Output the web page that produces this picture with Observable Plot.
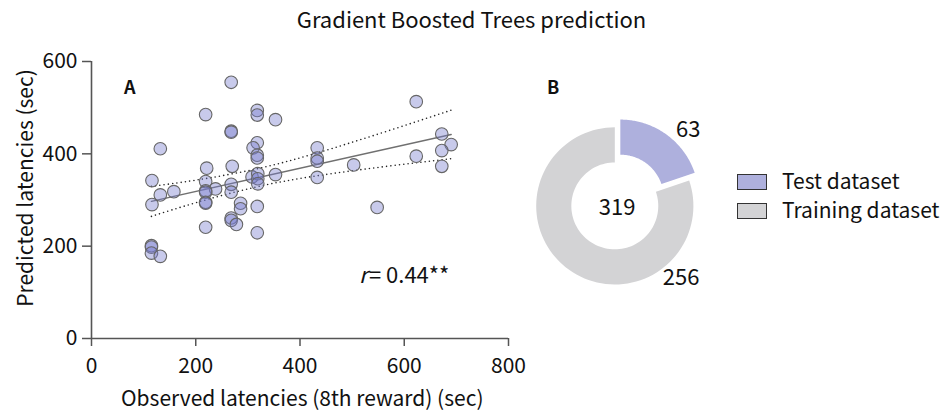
<!DOCTYPE html>
<html><head><meta charset="utf-8">
<script src="https://cdn.jsdelivr.net/npm/d3@7"></script>
<script src="https://cdn.jsdelivr.net/npm/@observablehq/plot@0.6"></script>
<style>
body{margin:0;background:#fff;}
#wrap{position:relative;width:943px;height:415px;overflow:hidden;font-family:"Noto Sans CJK JP","Noto Sans",sans-serif;color:#111;}
.abs{position:absolute;white-space:nowrap;line-height:1;}
#scatter g[aria-label="x-axis tick"], #scatter g[aria-label="y-axis tick"]{stroke:#555;stroke-width:1.5px;}
.sw{position:absolute;width:28px;height:14px;border:1px solid #333;}
</style></head><body>
<div id="wrap">
  <div class="abs" style="left:0;width:943px;top:7px;text-align:center;font-size:22px;">Gradient Boosted Trees prediction</div>
  <div id="scatter" class="abs" style="left:0;top:40px;"></div>
  <div id="donut" class="abs" style="left:520px;top:40px;"></div>
  <div class="abs" style="left:124px;top:77px;font-size:18px;font-weight:bold;">A</div>
  <div class="abs" style="left:547px;top:77px;font-size:18px;font-weight:bold;">B</div>
  <div class="abs" style="left:359px;top:262px;font-size:22px;"><i>r</i>&#8202;= 0.44**</div>
  <div class="abs" style="left:121px;top:387px;font-size:21px;">Observed latencies (8th reward) (sec)</div>
  <div class="abs" style="left:24px;top:188px;font-size:21px;transform:translate(-50%,-50%) rotate(-90deg);">Predicted latencies (sec)</div>
  <div id="legend"></div>
</div>
<script>
// ---- data ----
const observed = [268,219,318,318,353,268,268,132,318,310,318,318,433,433,433,623,672,690,672,623,672,503,433,548,221,270,116,219,308,319,319,319,353,268,238,219,219,268,158,132,219,219,116,286,286,318,268,268,278,219,318,115,115,115,132];
const predicted = [555,485,494,484,474,449,447,411,424,413,397,391,413,391,384,513,443,420,407,395,373,376,349,284,369,373,342,340,350,357,346,335,355,334,324,320,317,317,318,311,295,293,290,293,281,286,261,256,247,241,229,201,198,185,178];
const xTicks = [0,200,400,600,800];
const yTicks = [0,200,400,600];
// regression fit and 95% CI
const fitX = [115, 690];
const fitY = [297, 442];
const ciX = [115, 200, 315, 430, 560, 690];
const ciUpper = [329.5, 343, 367, 401, 446.5, 494.5];
const ciLower = [264.5, 294, 328, 352, 372, 389.5];
// donut
const sliceNames = ["Test dataset", "Training dataset"];
const sliceValues = [63, 256];
const sliceColors = ["#aeb0dd", "#d3d3d5"];

// ---- scatter ----
const pts = observed.map((x,i)=>({x, y: predicted[i]}));
const toXY = (xs, ys) => xs.map((x,i)=>({x, y: ys[i]}));
const scatter = Plot.plot({
  width: 530, height: 375,
  marginLeft: 91, marginRight: 22, marginTop: 21, marginBottom: 77,
  style: {fontFamily: '"Noto Sans CJK JP","Noto Sans",sans-serif', fontSize: "21px", color: "#111", background: "transparent"},
  x: {domain: [0,800], ticks: xTicks, tickSize: 8, tickPadding: 12, label: null},
  y: {domain: [0,600], ticks: yTicks, tickSize: 9, tickPadding: 5, label: null},
  marks: [
    Plot.line(toXY(ciX, ciUpper), {x:"x", y:"y", curve:"natural", stroke:"#222", strokeWidth:1.6, strokeDasharray:"0,4.3", strokeLinecap:"round"}),
    Plot.line(toXY(ciX, ciLower), {x:"x", y:"y", curve:"natural", stroke:"#222", strokeWidth:1.6, strokeDasharray:"0,4.3", strokeLinecap:"round"}),
    Plot.line(toXY(fitX, fitY), {x:"x", y:"y", stroke:"#707070", strokeWidth:1.4}),
    Plot.dot(pts, {x:"x", y:"y", r:6.3, fill:"#767bcc", fillOpacity:0.4, stroke:"#666", strokeWidth:1.1}),
    Plot.ruleY([0], {stroke:"#555", strokeWidth:1.6}),
    Plot.ruleX([0], {stroke:"#555", strokeWidth:1.6})
  ]
});
document.getElementById("scatter").append(scatter);

// ---- donut ----
const innerRatio = 0.553;
const explode = [0.121, 0];
const arcs = d3.pie().sort(null).startAngle(0).endAngle(2*Math.PI)(sliceValues);
const donutPts = [];
arcs.forEach((p,i)=>{
  const mid = (p.startAngle+p.endAngle)/2;
  const ox = explode[i]*Math.sin(mid), oy = explode[i]*Math.cos(mid);
  const N = 90;
  for (let k=0;k<=N;k++){ const a = p.startAngle+(p.endAngle-p.startAngle)*k/N; donutPts.push({key:sliceNames[i], x:ox+Math.sin(a), y:oy+Math.cos(a)}); }
  for (let k=N;k>=0;k--){ const a = p.startAngle+(p.endAngle-p.startAngle)*k/N; donutPts.push({key:sliceNames[i], x:ox+innerRatio*Math.sin(a), y:oy+innerRatio*Math.cos(a)}); }
});
const labelPos = [[0.935, 0.965], [0.843, -0.915]];
const labels = sliceValues.map((v,i)=>({x: labelPos[i][0], y: labelPos[i][1], text: String(v)}));
const total = [{x: 0.03, y: -0.03, text: String(d3.sum(sliceValues))}];
const donut = Plot.plot({
  width: 200, height: 340,
  marginLeft: 15.7, marginRight: 27.1, marginTop: 86.8, marginBottom: 96,
  style: {fontFamily: '"Noto Sans CJK JP","Noto Sans",sans-serif', fontSize: "22px", color: "#111", background: "transparent", overflow: "visible"},
  x: {domain: [-1,1], axis: null},
  y: {domain: [-1,1], axis: null},
  color: {domain: sliceNames, range: sliceColors},
  marks: [
    Plot.line(donutPts, {x:"x", y:"y", z:"key", fill:"key", stroke:"none", curve:"linear"}),
    Plot.text(labels, {x:"x", y:"y", text:"text", fontSize:22, fill:"#111"}),
    Plot.text(total, {x:"x", y:"y", text:"text", fontSize:22, fill:"#111"})
  ]
});
document.getElementById("donut").append(donut);

// ---- legend ----
const legend = document.getElementById("legend");
sliceNames.forEach((name,i)=>{
  const top = 174 + i*29;
  const sw = document.createElement("div");
  sw.className = "sw"; sw.style.left = "737px"; sw.style.top = top + "px"; sw.style.background = sliceColors[i];
  legend.append(sw);
  const t = document.createElement("div");
  t.className = "abs"; t.style.left = "782px"; t.style.top = (top - 4) + "px"; t.style.fontSize = "21px";
  t.textContent = name;
  legend.append(t);
});
</script>
</body></html>
